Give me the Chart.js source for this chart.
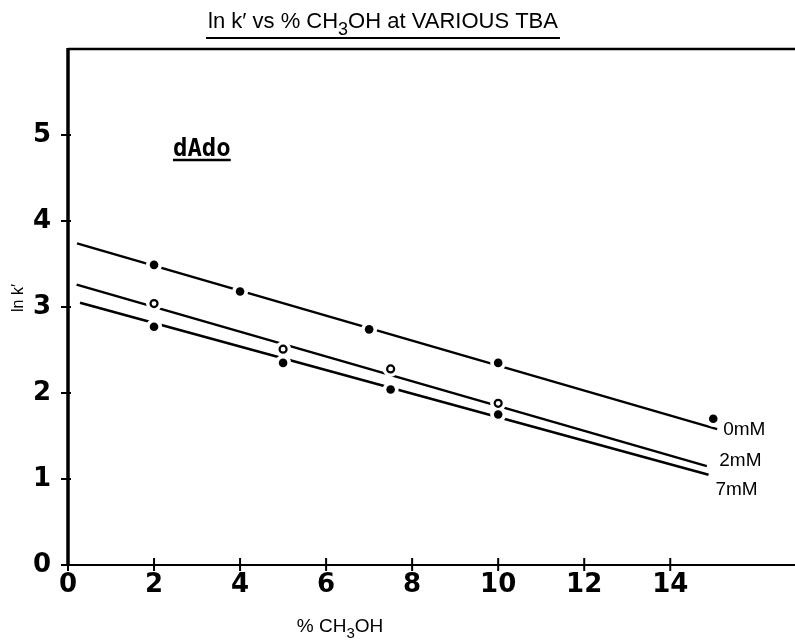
<!DOCTYPE html>
<html>
<head>
<meta charset="utf-8">
<script src="https://cdn.jsdelivr.net/npm/chart.js@4.4.1/dist/chart.umd.min.js"></script>
<style>
  html, body { margin: 0; padding: 0; background: #fff; }
  #wrap { width: 795px; height: 640px; }
</style>
</head>
<body>
<div id="wrap"><canvas id="lnkChart" width="795" height="640"></canvas></div>
<script>
// measured points (% CH3OH vs ln k') for dAdo at each TBA level
const meoh0 = [2, 4, 7, 10, 15];
const lnk0 = [3.49, 3.18, 2.74, 2.35, 1.70];
const meoh2 = [2, 5, 7.5, 10];
const lnk2 = [3.04, 2.51, 2.28, 1.88];
const meoh7 = [2, 5, 7.5, 10];
const lnk7 = [2.77, 2.35, 2.04, 1.75];

// fitted straight lines, end points
const fitX0 = [0.21, 15.09];
const fitY0 = [3.74, 1.58];
const fitX2 = [0.2, 14.85];
const fitY2 = [3.26, 1.15];
const fitX7 = [0.28, 14.89];
const fitY7 = [3.05, 1.05];

const xTicks = [0, 2, 4, 6, 8, 10, 12, 14];
const yTicks = [0, 1, 2, 3, 4, 5];
const seriesLabels = ['0mM', '2mM', '7mM'];

function pts(xs, ys) {
    return xs.map((x, i) => ({ x: x, y: ys[i] }));
}

function fitLine(xs, ys) {
    return {
        data: pts(xs, ys),
        borderColor: '#000',
        borderWidth: 2.5,
        pointRadius: 0,
        showLine: true,
        order: 3
    };
}

// white disc under each marker so the line breaks around it
function halo(xs, ys) {
    return {
        data: pts(xs, ys),
        pointRadius: 8,
        pointBackgroundColor: '#fff',
        pointBorderWidth: 0,
        showLine: false,
        order: 2
    };
}

function marks(xs, ys, open) {
    return {
        data: pts(xs, ys),
        pointRadius: open ? 3.5 : 4.3,
        pointBackgroundColor: open ? '#fff' : '#000',
        pointBorderColor: '#000',
        pointBorderWidth: open ? 2.2 : 0,
        showLine: false,
        order: 1
    };
}

// draws text with a subscript "3"
function drawChem(ctx, parts, x, y, size, align) {
    ctx.save();
    ctx.textBaseline = 'alphabetic';
    ctx.textAlign = 'left';
    let total = 0;
    parts.forEach(p => {
        ctx.font = (p.sub ? Math.round(size * 0.8) : size) + 'px "Liberation Sans", Arial, sans-serif';
        total += ctx.measureText(p.t).width;
    });
    let cx = align === 'center' ? x - total / 2 : x;
    parts.forEach(p => {
        ctx.font = (p.sub ? Math.round(size * 0.8) : size) + 'px "Liberation Sans", Arial, sans-serif';
        ctx.fillText(p.t, cx, p.sub ? y + size * 0.3 : y);
        cx += ctx.measureText(p.t).width;
    });
    ctx.restore();
    return total;
}

const decorations = {
    id: 'decorations',
    afterDraw(chart) {
        const ctx = chart.ctx;
        const area = chart.chartArea;
        const xs = chart.scales.x;
        const ys = chart.scales.y;
        ctx.save();
        ctx.fillStyle = '#000';
        ctx.strokeStyle = '#000';

        // frame: top edge and heavy left axis
        ctx.lineWidth = 2.5;
        ctx.beginPath();
        ctx.moveTo(area.left, area.top);
        ctx.lineTo(area.right, area.top);
        ctx.stroke();
        ctx.lineWidth = 3.5;
        ctx.beginPath();
        ctx.moveTo(area.left, area.top - 1);
        ctx.lineTo(area.left, area.bottom + 1);
        ctx.stroke();

        // tick marks crossing the axes
        ctx.lineWidth = 2;
        yTicks.forEach(v => {
            const py = ys.getPixelForValue(v);
            ctx.beginPath();
            ctx.moveTo(area.left - 7, py);
            ctx.lineTo(area.left + 3, py);
            ctx.stroke();
        });
        xTicks.forEach(v => {
            const px = xs.getPixelForValue(v);
            ctx.beginPath();
            ctx.moveTo(px, area.bottom - 7);
            ctx.lineTo(px, area.bottom + 6);
            ctx.stroke();
        });

        // title with underline
        const tw = drawChem(ctx, [{ t: "ln k\u2032 vs % CH" }, { t: '3', sub: true }, { t: 'OH at VARIOUS TBA' }], 383, 28, 22, 'center');
        ctx.lineWidth = 2.2;
        ctx.beginPath();
        ctx.moveTo(383 - tw / 2 - 2, 38);
        ctx.lineTo(383 + tw / 2 + 2, 38);
        ctx.stroke();

        // axis titles
        drawChem(ctx, [{ t: '% CH' }, { t: '3', sub: true }, { t: 'OH' }], 340, 632, 19, 'center');
        ctx.save();
        ctx.translate(19, 298);
        ctx.rotate(-Math.PI / 2);
        ctx.font = '16px "Liberation Sans", Arial, sans-serif';
        ctx.textAlign = 'center';
        ctx.textBaseline = 'middle';
        ctx.fillText('ln k\u2032', 0, 0);
        ctx.restore();

        // compound name
        ctx.font = 'bold 24px "DejaVu Sans Mono", monospace';
        ctx.textAlign = 'left';
        ctx.textBaseline = 'alphabetic';
        const nx = xs.getPixelForValue(2.44);
        const ny = ys.getPixelForValue(4.756);
        ctx.fillText('dAdo', nx, ny);
        const nw = ctx.measureText('dAdo').width;
        ctx.lineWidth = 2.5;
        ctx.beginPath();
        ctx.moveTo(nx, ny + 4);
        ctx.lineTo(nx + nw, ny + 4);
        ctx.stroke();

        // series labels at the right-hand ends of the lines
        ctx.font = '19px "Liberation Sans", Arial, sans-serif';
        ctx.textBaseline = 'middle';
        const labelPos = [[15.23, 1.576], [15.14, 1.215], [15.05, 0.878]];
        seriesLabels.forEach((s, i) => {
            ctx.fillText(s, xs.getPixelForValue(labelPos[i][0]), ys.getPixelForValue(labelPos[i][1]));
        });
        ctx.restore();
    }
};

const tickFont = { family: '"DejaVu Sans", sans-serif', size: 26, weight: 'bold' };

new Chart(document.getElementById('lnkChart'), {
    type: 'scatter',
    data: {
        datasets: [
            fitLine(fitX0, fitY0), fitLine(fitX2, fitY2), fitLine(fitX7, fitY7),
            halo(meoh0, lnk0), halo(meoh2, lnk2), halo(meoh7, lnk7),
            marks(meoh0, lnk0, false), marks(meoh2, lnk2, true), marks(meoh7, lnk7, false)
        ]
    },
    options: {
        responsive: false,
        animation: false,
        layout: { autoPadding: false, padding: { top: 49, left: 0, right: 0, bottom: 0 } },
        plugins: { legend: { display: false }, tooltip: { enabled: false } },
        scales: {
            x: {
                type: 'linear',
                min: 0,
                max: 16.9,
                afterFit: s => { s.height = 75; s.paddingRight = 0; },
                border: { display: true, color: '#000', width: 2 },
                grid: { drawOnChartArea: false, drawTicks: false },
                ticks: {
                    stepSize: 2,
                    autoSkip: false,
                    maxRotation: 0,
                    padding: 5,
                    color: '#000',
                    font: tickFont,
                    callback: v => (v <= 14 ? v : '')
                }
            },
            y: {
                type: 'linear',
                min: 0,
                max: 6,
                afterFit: s => { s.width = 68; },
                border: { display: false },
                grid: { drawOnChartArea: false, drawTicks: false },
                ticks: {
                    stepSize: 1,
                    autoSkip: false,
                    padding: 17,
                    color: '#000',
                    font: tickFont,
                    callback: v => (v <= 5 ? v : '')
                }
            }
        }
    },
    plugins: [decorations]
});
</script>
</body>
</html>
